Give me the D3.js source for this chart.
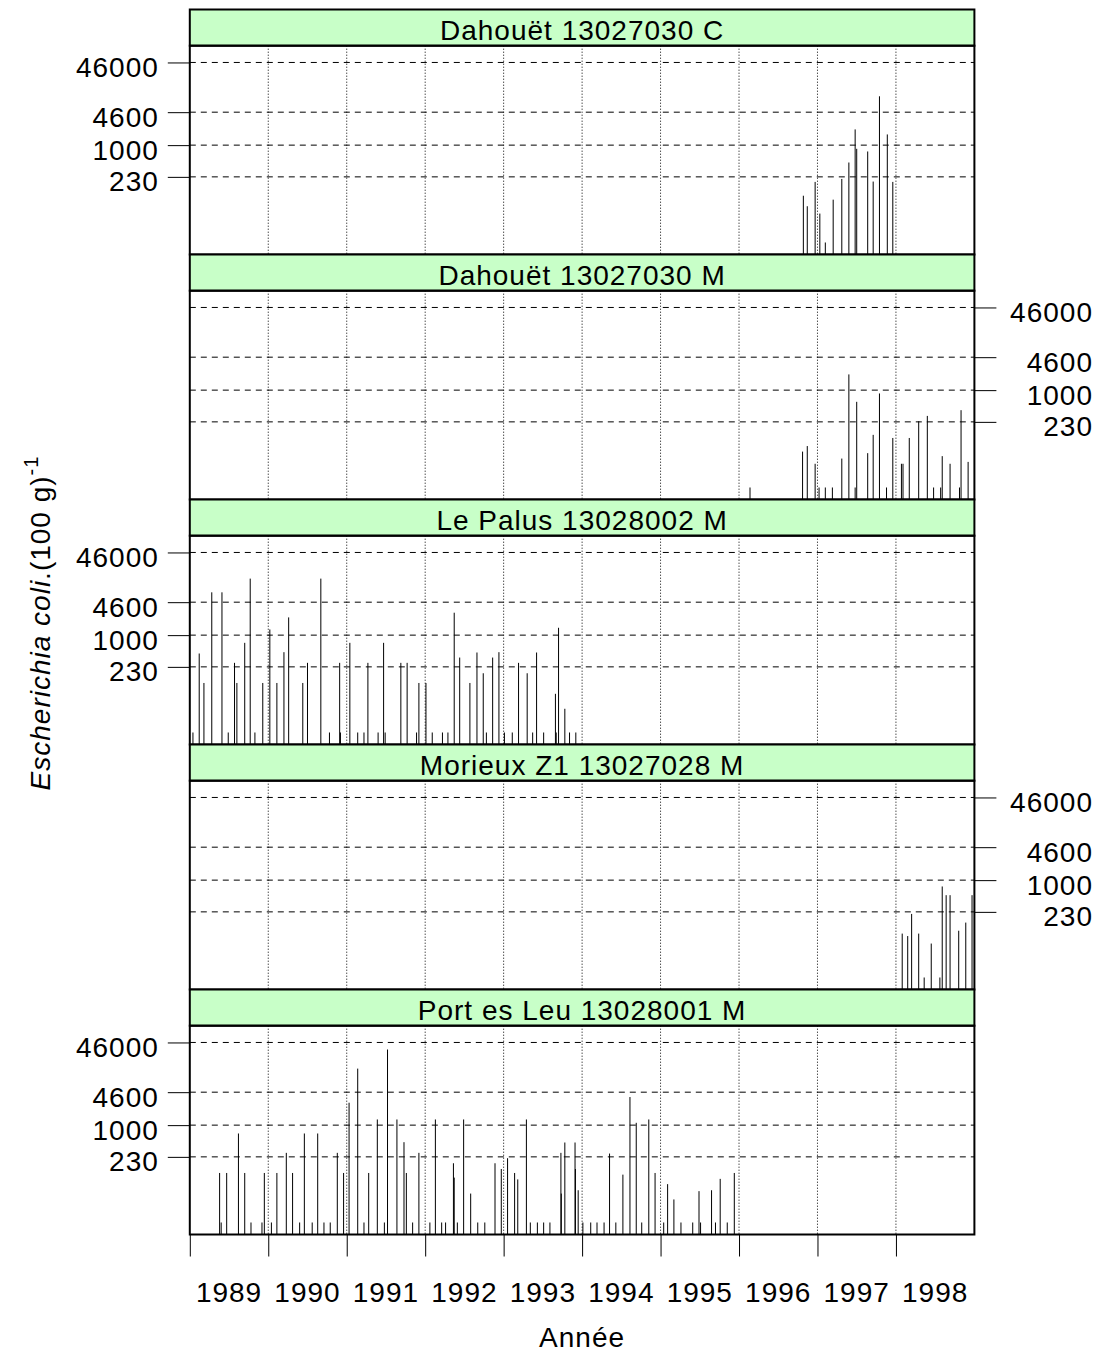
<!DOCTYPE html>
<html><head><meta charset="utf-8">
<script src="https://cdn.jsdelivr.net/npm/d3@7"></script>
<style>
body{margin:0;background:#fff}
svg{display:block}
text{font-family:"Liberation Sans",Arial,Helvetica,sans-serif;fill:#000}
</style>
</head><body>
<script>
// ---------- DATA ----------
const panelNames = ["Dahouët 13027030 C","Dahouët 13027030 M","Le Palus 13028002 M","Morieux Z1 13027028 M","Port es Leu 13028001 M"];
const yearTicks = [1989,1990,1991,1992,1993,1994,1995,1996,1997,1998];
const yearLabels = ["1989","1990","1991","1992","1993","1994","1995","1996","1997","1998"];
const yTickValues = [230,1000,4600,46000];
const yTickLabels = ["230","1000","4600","46000"];

const dahouetC_dates  = [1996.82,1996.87,1996.97,1997.03,1997.10,1997.20,1997.31,1997.40,1997.48,1997.50,1997.64,1997.71,1997.79,1997.89,1997.96];
const dahouetC_values = [96,59,182,42,11,80,209,447,2070,843,745,185,9600,1640,182];

const dahouetM_dates  = [1996.14,1996.81,1996.87,1996.97,1997.02,1997.10,1997.19,1997.31,1997.40,1997.48,1997.50,1997.64,1997.71,1997.79,1997.88,1997.96,1998.07,1998.09,1998.17,1998.29,1998.40,1998.48,1998.57,1998.59,1998.69,1998.81,1998.83,1998.92];
const dahouetM_values = [11,58,75,33,11,11,11,42,2070,11,582,54,126,857,11,109,33,33,109,237,303,11,11,47,33,11,395,36];

const palus_dates  = [1989.04,1989.12,1989.18,1989.28,1989.41,1989.49,1989.57,1989.60,1989.70,1989.77,1989.83,1989.93,1990.02,1990.11,1990.20,1990.26,1990.44,1990.50,1990.67,1990.78,1990.91,1990.92,1991.04,1991.14,1991.22,1991.27,1991.40,1991.47,1991.49,
  1991.69,1991.77,1991.89,1991.92,1992.01,1992.09,1992.22,1992.29,1992.37,1992.44,1992.57,1992.66,1992.74,1992.78,1992.86,1992.94,1993.01,1993.11,1993.19,1993.30,1993.37,1993.42,1993.51,1993.66,1993.67,1993.70,1993.78,1993.84,1993.92];
const palus_values = [11,427,109,7260,7260,11,277,109,700,13700,11,109,1300,109,454,2274,109,277,13700,11,277,11,700,11,11,277,11,700,11,
  277,277,11,109,109,11,11,11,2825,354,109,447,171,11,354,454,11,11,277,171,11,447,11,66,11,1406,33,11,11];

const morieux_dates  = [1998.08,1998.15,1998.20,1998.29,1998.36,1998.45,1998.56,1998.59,1998.64,1998.69,1998.80,1998.89,1998.97];
const morieux_values = [84,75,209,84,11,53,11,745,498,498,96,140,498];

const portLeu_dates  = [1989.38,1989.40,1989.47,1989.62,1989.70,1989.78,1989.92,1989.95,1990.04,1990.11,1990.23,1990.31,1990.40,1990.46,1990.56,1990.63,1990.71,1990.79,1990.88,1990.96,1991.03,1991.14,1991.22,1991.28,1991.39,
  1991.48,1991.52,1991.64,1991.73,1991.76,1991.84,1991.92,1992.06,1992.13,1992.21,1992.26,1992.36,1992.37,1992.41,1992.49,1992.58,1992.67,1992.76,1992.89,1992.97,1993.05,1993.14,1993.18,1993.29,1993.34,1993.43,1993.51,1993.59,1993.73,1993.735,1993.78,
  1993.91,1993.915,1993.95,1994.01,1994.11,1994.19,1994.28,1994.35,1994.43,1994.52,1994.61,1994.69,1994.76,1994.85,1994.93,1995.04,1995.09,1995.17,1995.26,1995.41,1995.49,1995.51,1995.65,1995.70,1995.76,1995.85,1995.94];
const portLeu_values = [109,11,109,679,109,11,11,109,11,109,277,109,11,679,11,679,11,11,277,109,2825,13700,11,109,1300,
  11,33200,1300,454,109,11,277,11,1300,11,11,171,88,11,1300,42,11,11,171,131,216,109,81,1300,11,11,11,11,277,42,447,
  447,131,49,11,11,11,11,268,11,101,3673,1114,11,1300,109,11,65,32,11,11,47,11,49,11,83,11,109];

const panelDates  = [dahouetC_dates, dahouetM_dates, palus_dates, morieux_dates, portLeu_dates];
const panelValues = [dahouetC_values, dahouetM_values, palus_values, morieux_values, portLeu_values];

// ---------- LAYOUT ----------
const W = 1109, H = 1352;
const top0 = 9.5, stripH = 36.2, plotH = 208.8, blockH = 245;
const svg = d3.select("body").append("svg").attr("width", W).attr("height", H);
const x = d3.scaleLinear().domain([1989, 1999]).range([189.8, 974.4]);
const x0 = x(1989), x1 = x(1999);

panelNames.forEach((name, i) => {
  const st = top0 + i * blockH;
  const pt = st + stripH, pb = pt + plotH;
  const y = d3.scaleLog().domain([Math.pow(10, 0.8), 1e5]).range([pb, pt]);
  const g = svg.append("g");

  // strip
  g.append("rect").attr("x", x0).attr("y", st).attr("width", x1 - x0).attr("height", stripH)
    .attr("fill", "#c8ffc8").attr("stroke", "#000").attr("stroke-width", 2);
  g.append("text").attr("x", (x0 + x1) / 2).attr("y", st + 30.5)
    .attr("text-anchor", "middle").attr("font-size", 28).attr("letter-spacing", 1).text(name);

  // vertical dotted grid
  g.selectAll(".vg").data(yearTicks.slice(1)).enter().append("line")
    .attr("x1", d => x(d)).attr("x2", d => x(d)).attr("y1", pt).attr("y2", pb)
    .attr("stroke", "#000").attr("stroke-width", 1).attr("stroke-dasharray", "1,2");
  // horizontal dashed grid
  g.selectAll(".hg").data(yTickValues).enter().append("line")
    .attr("x1", x0).attr("x2", x1).attr("y1", d => y(d)).attr("y2", d => y(d))
    .attr("stroke", "#000").attr("stroke-width", 1).attr("stroke-dasharray", "6,5");

  // bars (type "h")
  const data = panelDates[i].map((d, k) => ({d, v: panelValues[i][k]}));
  g.selectAll(".bar").data(data).enter().append("line")
    .attr("x1", p => x(p.d)).attr("x2", p => x(p.d))
    .attr("y1", pb).attr("y2", p => y(p.v))
    .attr("stroke", "#000").attr("stroke-width", 1);

  // panel border
  g.append("rect").attr("x", x0).attr("y", pt).attr("width", x1 - x0).attr("height", plotH)
    .attr("fill", "none").attr("stroke", "#000").attr("stroke-width", 2);

  // y axis (alternating)
  const left = (i % 2 === 0);
  const ax = (left ? d3.axisLeft(y) : d3.axisRight(y))
    .tickValues(yTickValues).tickFormat((d, k) => yTickLabels[k])
    .tickSize(22).tickSizeOuter(0).tickPadding(9);
  const ag = svg.append("g").attr("transform", `translate(${left ? x0 : x1},0)`).call(ax);
  ag.select(".domain").remove();
  ag.selectAll("line").attr("stroke", "#000");
  ag.selectAll("text").attr("font-size", 28).attr("letter-spacing", 1)
    .attr("font-family", null).attr("dy", "0.5em");
  if (!left) ag.selectAll("text").attr("text-anchor", "end").attr("x", 1093 - x1);
});

// x axis
const lastBottom = top0 + 4 * blockH + stripH + plotH;
const xa = d3.axisBottom(x).tickValues(yearTicks).tickFormat("").tickSize(22).tickSizeOuter(0);
const xg = svg.append("g").attr("transform", `translate(0,${lastBottom})`).call(xa);
xg.select(".domain").remove();
xg.selectAll("line").attr("stroke", "#000");
svg.selectAll(".xl").data(yearTicks).enter().append("text")
  .attr("x", d => x(d + 0.5)).attr("y", 1302).attr("text-anchor", "middle")
  .attr("font-size", 28).attr("letter-spacing", 1).text((d, k) => yearLabels[k]);

svg.append("text").attr("x", (x0 + x1) / 2).attr("y", 1347).attr("text-anchor", "middle")
  .attr("font-size", 28).attr("letter-spacing", 1).text("Année");

// y axis label
const yl = svg.append("text").attr("transform", "translate(50,623) rotate(-90)")
  .attr("text-anchor", "middle").attr("font-size", 28).attr("letter-spacing", 1);
yl.append("tspan").attr("font-style", "italic").text("Escherichia coli");
yl.append("tspan").text(".(100 g)");
yl.append("tspan").attr("font-size", 20).attr("dy", -12).text("-1");
</script>
</body></html>
